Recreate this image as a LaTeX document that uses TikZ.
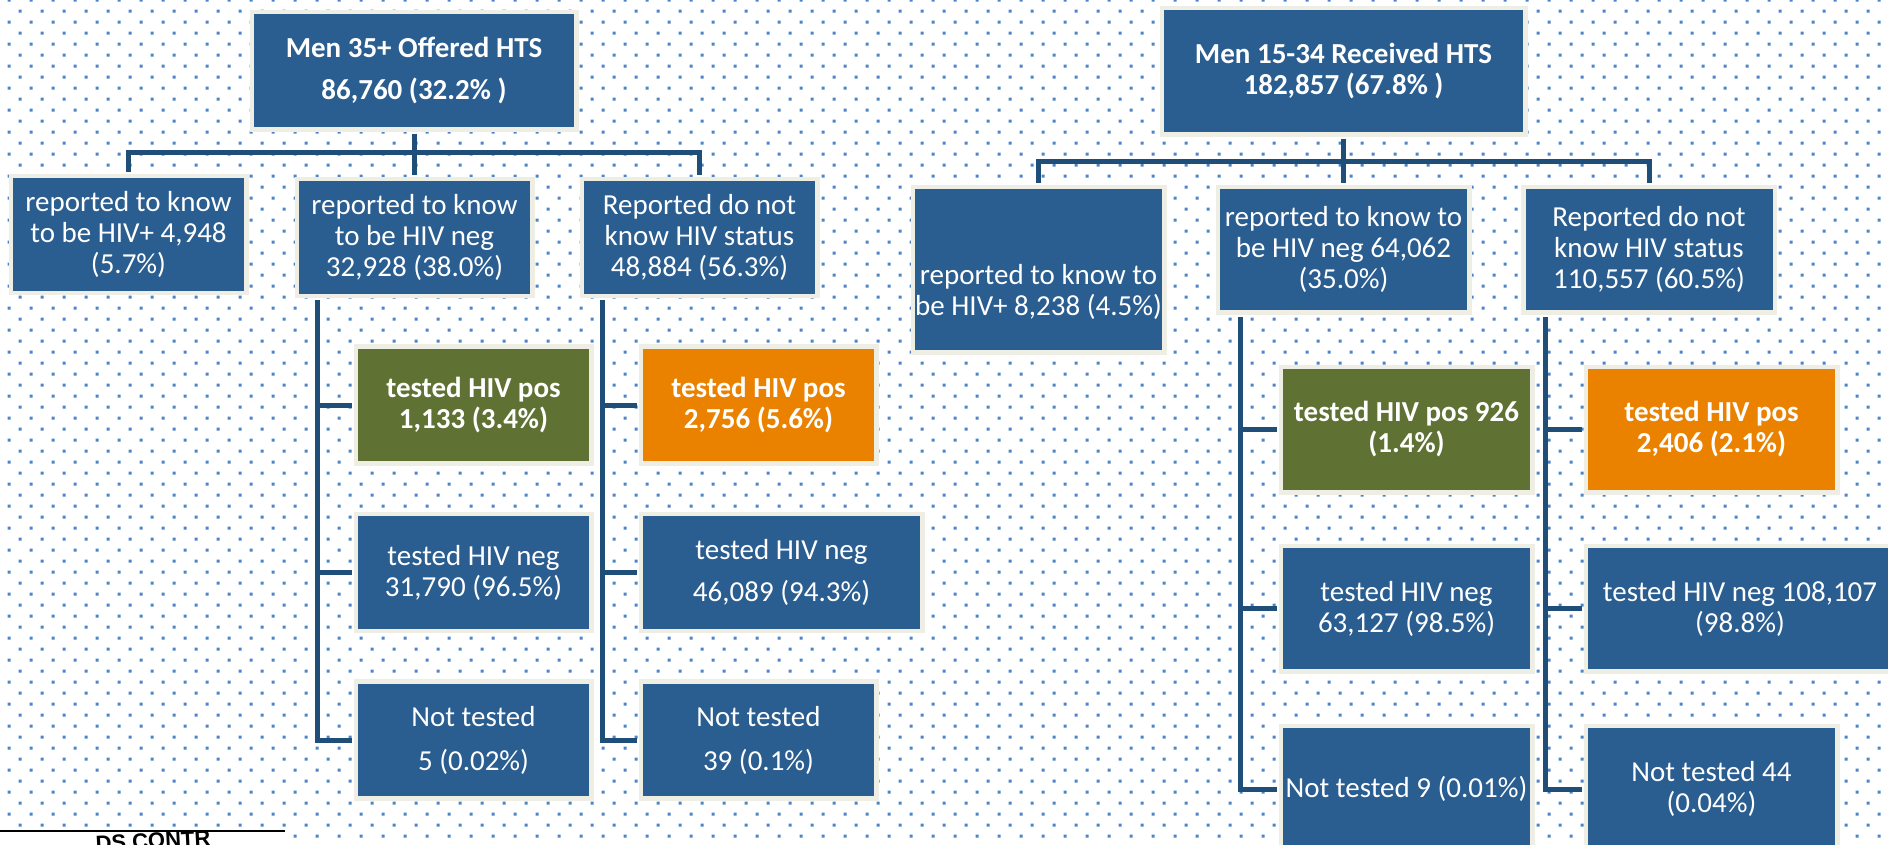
\documentclass[tikz,border=0pt]{standalone}
\usepackage{fontspec}
\setmainfont{Carlito}
\newfontfamily\logofont{Liberation Sans}
\definecolor{boxblue}{RGB}{42,93,144}
\definecolor{frame}{RGB}{238,238,228}
\definecolor{posgreen}{RGB}{96,113,52}
\definecolor{posorange}{RGB}{234,130,0}
\definecolor{connblue}{RGB}{31,78,121}
\definecolor{dotblue}{RGB}{76,132,202}
\newcommand\boxfont{\fontsize{29}{31}\selectfont}
\tikzset{
  conn/.style={draw=connblue, line width=5pt, shorten >=2pt},
  hbox/.style={draw=frame, line width=4.5pt, fill=boxblue, text=white, align=center, inner sep=0pt, font=\boxfont},
  boxtext/.style={text=white, align=center, inner sep=0pt, font=\boxfont},
  topbox/.style={hbox, font=\boxfont\bfseries},
  greenbox/.style={hbox, fill=posgreen, font=\boxfont\bfseries},
  orangebox/.style={hbox, fill=posorange, font=\boxfont\bfseries},
  lsize/.style={minimum width=235.5pt, minimum height=117pt},
  rsize/.style={minimum width=251.5pt, minimum height=125.5pt}
}
\begin{document}
\begin{tikzpicture}[x=1pt, y=-1pt]
\useasboundingbox (0,0) rectangle (1888,844);
\fill[white] (0,0) rectangle (1888,844);
% dotted background
\foreach \n in {0,...,76}{
  \pgfmathtruncatemacro\off{9+11*mod(\n,2)}
  \fill[dotblue] \foreach \k in {0,...,85}{ (\off+22*\k-1.5,11*\n-1.5) rectangle ++(3,3) };
}
% logo corner
\fill[white] (0,831) rectangle (285,844);
\draw[line width=2pt] (0,831) -- (285,831);
\node[anchor=north west, inner sep=0pt, rotate=3, font=\logofont\bfseries\fontsize{22}{22}\selectfont] (logo) at (95,836) {DS CONTR};

% Men 35+
\node[topbox, minimum width=324.5pt, minimum height=117.5pt] (ltop) at (414,70.5) {Men 35+ Offered HTS\\[11pt]86,760 (32.2\% )};
\node[hbox, lsize] (l1) at (128.5,234.5) {reported to know\\to be HIV+ 4,948\\(5.7\%)};
\node[hbox, lsize] (l2) at (414.5,237.5) {reported to know\\to be HIV neg\\32,928 (38.0\%)};
\node[hbox, lsize] (l3) at (699.5,237.5) {Reported do not\\know HIV status\\48,884 (56.3\%)};
\node[greenbox, lsize] (l2a) at (473.5,405) {tested HIV pos\\1,133 (3.4\%)};
\node[hbox, lsize] (l2b) at (473.5,572.5) {tested HIV neg\\31,790 (96.5\%)};
\node[hbox, lsize] (l2c) at (473.5,740) {Not tested\\[13pt]5 (0.02\%)};
\node[orangebox, lsize] (l3a) at (758.5,405) {tested HIV pos\\2,756 (5.6\%)};
\node[hbox, lsize, minimum width=281.5pt] (l3b) at (781.5,572.5) {tested HIV neg\\[11pt]46,089 (94.3\%)};
\node[hbox, lsize] (l3c) at (758.5,740) {Not tested\\[13pt]39 (0.1\%)};

% Men 15-34
\node[topbox, minimum width=363.5pt, minimum height=126.5pt] (rtop) at (1343.5,71) {Men 15-34 Received HTS\\182,857 (67.8\% )};
\node[hbox, minimum width=251.5pt, minimum height=165.5pt] (r1) at (1038.5,269.5) {};
\node[boxtext] (r1txt) at ([yshift=-22.5pt]r1.center) {reported to know to\\be HIV+ 8,238 (4.5\%)};
\node[hbox, rsize] (r2) at (1343.5,249.5) {reported to know to\\be HIV neg 64,062\\(35.0\%)};
\node[hbox, rsize] (r3) at (1649,249.5) {Reported do not\\know HIV status\\110,557 (60.5\%)};
\node[greenbox, rsize] (r2a) at (1406.5,429.5) {tested HIV pos 926\\(1.4\%)};
\node[hbox, rsize] (r2b) at (1406.5,608.5) {tested HIV neg\\63,127 (98.5\%)};
\node[hbox, rsize, minimum height=126.5pt] (r2c) at (1406.5,789) {Not tested 9 (0.01\%)};
\node[orangebox, rsize] (r3a) at (1711.5,429.5) {tested HIV pos\\2,406 (2.1\%)};
\node[hbox, rsize, minimum width=308.5pt] (r3b) at (1740,608.5) {tested HIV neg 108,107\\(98.8\%)};
\node[hbox, rsize, minimum height=126.5pt] (r3c) at (1711.5,789) {Not tested 44\\(0.04\%)};

% connectors, left tree
\coordinate (lbar) at (414,152);
\draw[conn, shorten <=2pt] (ltop.south) -- (ltop.south |- l2.north);
\draw[conn, shorten <=2pt] (l1.north) |- (lbar) -| (l3.north);
\coordinate (l2s) at ([xshift=23pt]l2.south west);
\coordinate (l3s) at ([xshift=23pt]l3.south west);
\draw[conn, shorten <=2pt] (l2s) |- (l2c.west);
\draw[conn] (l2s |- l2a.west) -- (l2a.west);
\draw[conn] (l2s |- l2b.west) -- (l2b.west);
\draw[conn, shorten <=2pt] (l3s) |- (l3c.west);
\draw[conn] (l3s |- l3a.west) -- (l3a.west);
\draw[conn] (l3s |- l3b.west) -- (l3b.west);

% connectors, right tree
\coordinate (rbar) at (1343.5,161);
\draw[conn, shorten <=2pt] (rtop.south) -- (rtop.south |- r2.north);
\draw[conn, shorten <=2pt] (r1.north) |- (rbar) -| (r3.north);
\coordinate (r2s) at ([xshift=25pt]r2.south west);
\coordinate (r3s) at ([xshift=24pt]r3.south west);
\draw[conn, shorten <=2pt] (r2s) |- (r2c.west);
\draw[conn] (r2s |- r2a.west) -- (r2a.west);
\draw[conn] (r2s |- r2b.west) -- (r2b.west);
\draw[conn, shorten <=2pt] (r3s) |- (r3c.west);
\draw[conn] (r3s |- r3a.west) -- (r3a.west);
\draw[conn] (r3s |- r3b.west) -- (r3b.west);
\end{tikzpicture}
\end{document}
